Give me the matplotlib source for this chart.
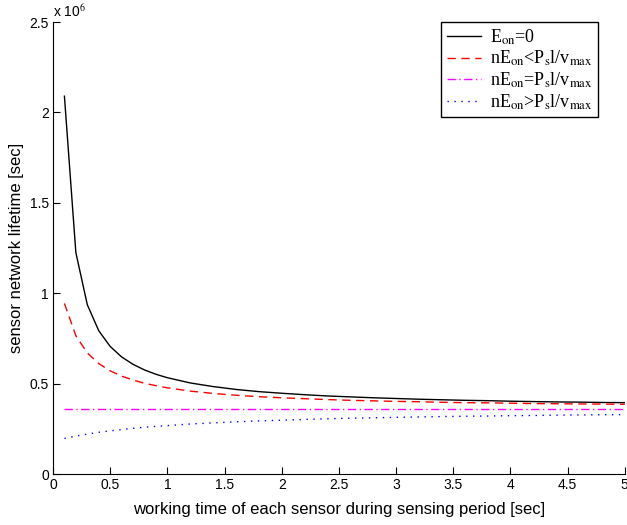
import matplotlib
matplotlib.use("Agg")
import matplotlib.pyplot as plt
from matplotlib.ticker import FormatStrFormatter

# working time of each sensor [sec]
x_time = [0.1, 0.2, 0.3, 0.4, 0.5, 0.6, 0.7, 0.8, 0.9, 1.0,
          1.2, 1.4, 1.6, 1.8, 2.0, 2.2, 2.4, 2.6, 2.8, 3.0,
          3.2, 3.4, 3.6, 3.8, 4.0, 4.2, 4.4, 4.6, 4.8, 5.0]

# lifetime values, in units of 1e6 sec
life_e0 = [2.09, 1.225, 0.937, 0.793, 0.706, 0.648, 0.607, 0.576, 0.552, 0.533,
           0.504, 0.484, 0.468, 0.456, 0.447, 0.439, 0.432, 0.427, 0.422, 0.418,
           0.414, 0.411, 0.408, 0.406, 0.403, 0.401, 0.399, 0.398, 0.396, 0.395]
life_lt = [0.944, 0.765, 0.670, 0.611, 0.571, 0.542, 0.520, 0.502, 0.489, 0.477,
           0.459, 0.446, 0.436, 0.428, 0.422, 0.417, 0.412, 0.408, 0.405, 0.402,
           0.400, 0.397, 0.395, 0.394, 0.392, 0.390, 0.389, 0.388, 0.387, 0.386]
life_eq = [0.36] * 30
life_gt = [0.197, 0.210, 0.221, 0.231, 0.239, 0.246, 0.253, 0.259, 0.264, 0.268,
           0.277, 0.283, 0.289, 0.294, 0.298, 0.302, 0.306, 0.309, 0.311, 0.314,
           0.316, 0.318, 0.320, 0.321, 0.323, 0.324, 0.326, 0.327, 0.328, 0.329]

labels = [
    r"E$_{\mathrm{on}}$=0",
    r"nE$_{\mathrm{on}}$<P$_{\mathrm{s}}$l/v$_{\mathrm{max}}$",
    r"nE$_{\mathrm{on}}$=P$_{\mathrm{s}}$l/v$_{\mathrm{max}}$",
    r"nE$_{\mathrm{on}}$>P$_{\mathrm{s}}$l/v$_{\mathrm{max}}$",
]

plt.rcParams["font.family"] = ["Liberation Sans", "DejaVu Sans"]
plt.rcParams["mathtext.fontset"] = "stix"

fig = plt.figure(figsize=(6.27, 5.25), dpi=100)
ax = fig.add_axes([0.0845, 0.097, 0.912, 0.861])

ax.plot(x_time, life_e0, color="black", lw=1.0, label=labels[0])
ax.plot(x_time, life_lt, color="#ff0000", lw=1.0, ls=(0, (6, 4)), label=labels[1])
ax.plot(x_time, life_eq, color="#ff00ff", lw=1.0, ls=(0, (6, 2.5, 1, 2.5)), label=labels[2])
ax.plot(x_time, life_gt, color="#0000ff", lw=1.0, ls=(0, (1, 4)), label=labels[3])

ax.set_xlim(0, 5)
ax.set_ylim(0, 2.5)
ax.set_xticks([0, 0.5, 1, 1.5, 2, 2.5, 3, 3.5, 4, 4.5, 5])
ax.set_yticks([0, 0.5, 1, 1.5, 2, 2.5])
ax.xaxis.set_major_formatter(FormatStrFormatter("%g"))
ax.yaxis.set_major_formatter(FormatStrFormatter("%g"))
ax.tick_params(direction="in", length=5, labelsize=10, width=0.8, pad=3)
for side in ["top", "right"]:
    ax.spines[side].set_visible(False)

ax.text(0.0, 1.005, r"x 10$^{6}$", transform=ax.transAxes, fontsize=10,
        ha="left", va="bottom")

ax.set_xlabel("working time of each sensor during sensing period [sec]", fontsize=12,
              labelpad=7)
ax.set_ylabel("sensor network lifetime [sec]", fontsize=12)

leg = ax.legend(loc="upper right", bbox_to_anchor=(0.953, 1.0), borderaxespad=0,
                prop={"family": "Liberation Serif", "size": 13},
                fancybox=False, framealpha=1, edgecolor="black",
                handlelength=1.9, handletextpad=0.5, labelspacing=0.12,
                borderpad=0.3)
leg.get_frame().set_linewidth(1.0)

plt.savefig("out.png", dpi=100)
plt.close()
